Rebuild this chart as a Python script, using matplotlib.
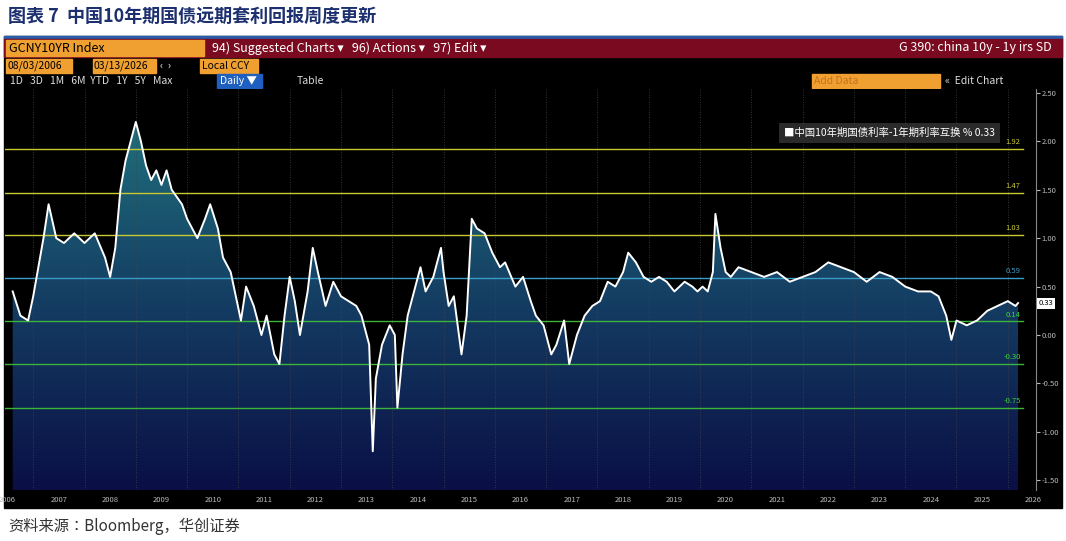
import os
import numpy as np
import matplotlib.pyplot as plt
from matplotlib import font_manager
from matplotlib.patches import Rectangle, Polygon
from matplotlib.colors import LinearSegmentedColormap

# pick a simplified-Chinese CJK face if one exists as its own file
cjk = []
for f in font_manager.fontManager.ttflist:
    if "CJK" in f.name and "SC" in os.path.basename(f.fname) and f.weight in (400, "normal", "regular"):
        cjk.append(f.name)
families = cjk[:1] + ["Noto Sans CJK SC", "Noto Sans CJK TC", "Noto Sans CJK JP", "DejaVu Sans"]
plt.rcParams["font.family"] = families

# ==============================================================================
# data (year fraction, spread %)
t = [2006.6, 2006.75, 2006.9, 2007.0, 2007.2, 2007.3, 2007.45, 2007.6, 2007.8, 2008.0,
     2008.2, 2008.4, 2008.5, 2008.6, 2008.7, 2008.8, 2008.9, 2009.0, 2009.1, 2009.2,
     2009.3, 2009.4, 2009.5, 2009.6, 2009.7, 2009.9, 2010.0, 2010.2, 2010.35, 2010.45,
     2010.6, 2010.7, 2010.85, 2010.95, 2011.05, 2011.15, 2011.3, 2011.45, 2011.55, 2011.7,
     2011.8, 2011.9, 2012.0, 2012.1, 2012.2, 2012.35, 2012.45, 2012.55, 2012.7, 2012.85,
     2013.0, 2013.15, 2013.3, 2013.4, 2013.45, 2013.55, 2013.62, 2013.68, 2013.8, 2013.95,
     2014.05, 2014.1, 2014.2, 2014.3, 2014.45, 2014.55, 2014.65, 2014.8, 2014.95, 2015.0,
     2015.1, 2015.2, 2015.35, 2015.45, 2015.55, 2015.65, 2015.8, 2015.95, 2016.1, 2016.2,
     2016.4, 2016.55, 2016.7, 2016.8, 2016.95, 2017.1, 2017.2, 2017.35, 2017.45, 2017.6,
     2017.75, 2017.9, 2018.05, 2018.2, 2018.35, 2018.5, 2018.6, 2018.75, 2018.9, 2019.05,
     2019.2, 2019.35, 2019.5, 2019.7, 2019.85, 2019.95, 2020.05, 2020.15, 2020.25, 2020.3,
     2020.4, 2020.5, 2020.6, 2020.75, 2021.0, 2021.25, 2021.5, 2021.75, 2022.0, 2022.25,
     2022.5, 2022.75, 2023.0, 2023.25, 2023.5, 2023.75, 2024.0, 2024.25, 2024.5, 2024.65,
     2024.8, 2024.9, 2025.0, 2025.2, 2025.4, 2025.6, 2025.8, 2026.0, 2026.15, 2026.2]
spread = [0.45, 0.20, 0.15, 0.40, 1.00, 1.35, 1.00, 0.95, 1.05, 0.95,
          1.05, 0.80, 0.60, 0.90, 1.50, 1.80, 2.00, 2.20, 2.00, 1.75,
          1.60, 1.70, 1.55, 1.70, 1.50, 1.35, 1.20, 1.00, 1.20, 1.35,
          1.10, 0.80, 0.65, 0.40, 0.15, 0.50, 0.30, 0.00, 0.20, -0.20,
          -0.30, 0.20, 0.60, 0.35, 0.00, 0.45, 0.90, 0.65, 0.30, 0.55,
          0.40, 0.35, 0.30, 0.20, 0.10, -0.10, -1.20, -0.45, -0.10, 0.10,
          0.00, -0.75, -0.20, 0.20, 0.50, 0.70, 0.45, 0.60, 0.90, 0.65,
          0.30, 0.40, -0.20, 0.20, 1.20, 1.10, 1.05, 0.85, 0.70, 0.75,
          0.50, 0.60, 0.35, 0.20, 0.10, -0.20, -0.10, 0.15, -0.30, 0.00,
          0.20, 0.30, 0.35, 0.55, 0.50, 0.65, 0.85, 0.75, 0.60, 0.55,
          0.60, 0.55, 0.45, 0.55, 0.50, 0.45, 0.50, 0.45, 0.65, 1.25,
          0.90, 0.65, 0.60, 0.70, 0.65, 0.60, 0.65, 0.55, 0.60, 0.65,
          0.75, 0.70, 0.65, 0.55, 0.65, 0.60, 0.50, 0.45, 0.45, 0.40,
          0.20, -0.05, 0.15, 0.10, 0.15, 0.25, 0.30, 0.35, 0.30, 0.33]

bands = [1.92, 1.47, 1.03, 0.59, 0.14, -0.30, -0.75]
band_colors = ["#c8c832", "#c8c832", "#c8c832", "#3a9cc8", "#3cb43c", "#3cb43c", "#3cb43c"]
band_text = ["#c8c832", "#c8c832", "#c8c832", "#3a9cc8", "#3cd23c", "#3cd23c", "#3cd23c"]
years = list(range(2006, 2027))
yticks = [2.5, 2.0, 1.5, 1.0, 0.5, 0.0, -0.5, -1.0, -1.5]

# ==============================================================================
W, H = 1066, 541
fig = plt.figure(figsize=(W / 100, H / 100), dpi=100)
fig.patch.set_facecolor("white")

def px(x0, y0, x1, y1):
    return [x0 / W, 1 - y1 / H, (x1 - x0) / W, (y1 - y0) / H]

def rect(x0, y0, x1, y1, color):
    fig.patches.append(Rectangle((x0 / W, 1 - y1 / H), (x1 - x0) / W, (y1 - y0) / H,
                                 transform=fig.transFigure, color=color, zorder=-5))

def txt(x, y, s, **kw):
    fig.text(x / W, 1 - y / H, s, va="center", **kw)

# title and source
txt(8, 16, "图表 7  中国10年期国债远期套利回报周度更新", fontsize=13, fontweight="bold", color="#1c2f6e")
txt(8, 526, "资料来源：Bloomberg，华创证券", fontsize=11, style="italic", color="#333333")

# terminal frame
rect(4, 36, 1062, 508, "black")
rect(4, 36, 1062, 39, "#2a5caa")
rect(4, 39, 1062, 57, "#7a0a20")
rect(6, 40, 204, 56, "#f0a030")
txt(9, 48, "GCNY10YR Index", fontsize=9, color="black")
txt(212, 48, "94) Suggested Charts ▾   96) Actions ▾   97) Edit ▾", fontsize=9, color="white")
txt(1052, 48, "G 390: china 10y - 1y irs SD", fontsize=9, color="white", ha="right")
rect(6, 59, 72, 73, "#f0a030")
rect(93, 59, 156, 73, "#f0a030")
rect(200, 59, 258, 73, "#f0a030")
txt(7, 66, "08/03/2006", fontsize=7.5, color="black")
txt(94, 66, "03/13/2026", fontsize=7.5, color="black")
txt(202, 66, "Local CCY", fontsize=7.5, color="black")
txt(160, 66, "‹  ›", fontsize=7.5, color="white")
txt(10, 81, "1D   3D   1M   6M  YTD   1Y   5Y   Max", fontsize=7.5, color="#dddddd")
rect(217, 74, 262, 88, "#1f5fbf")
txt(220, 81, "Daily ▼", fontsize=7.5, color="white")
txt(297, 81, "Table", fontsize=7.5, color="#dddddd")
rect(812, 74, 940, 88, "#f0a030")
txt(814, 81, "Add Data", fontsize=7.5, color="#c87020")
txt(945, 81, "«  Edit Chart", fontsize=7.5, color="#dddddd")
txt(548, 94, "+ Track   ⁄ Annotate   ⁞ News   ○ Zoom", fontsize=5, color="#888888", ha="center")

# ==============================================================================
ax = fig.add_axes(px(5, 89, 1036, 490))
ax.set_zorder(5)
ax.set_facecolor("black")
x0, x1 = 2006.45, 2026.55
y0, y1 = -1.6, 2.54
ax.set_xlim(x0, x1)
ax.set_ylim(y0, y1)

# gradient fill under the line
grad = np.linspace(0, 1, 256).reshape(-1, 1)
cmap = LinearSegmentedColormap.from_list("g", ["#0a0f45", "#143c62", "#1f6f7c"])
im = ax.imshow(grad, aspect="auto", cmap=cmap, origin="lower",
               extent=[x0, x1, y0, 2.2], zorder=1)
poly = Polygon(list(zip(t, spread)) + [(t[-1], y0), (t[0], y0)], closed=True,
               transform=ax.transData, facecolor="none", edgecolor="none")
ax.add_patch(poly)
im.set_clip_path(poly)
ax.set_xlim(x0, x1)
ax.set_ylim(y0, y1)

for yr in years:
    ax.axvline(yr, color="#444444", lw=0.6, ls=(0, (1, 2)), zorder=2)
for v, c, tc in zip(bands, band_colors, band_text):
    ax.plot([x0, 2026.3], [v, v], color=c, lw=1.0, zorder=3)
    ax.text(2026.25, v + 0.03, f"{v:.2f}", color=tc, fontsize=5.5, ha="right", va="bottom", zorder=4)
ax.plot(t, spread, color="white", lw=1.4, zorder=5)

# axes styling
for s in ["top", "left", "bottom"]:
    ax.spines[s].set_visible(False)
ax.spines["right"].set_color("#888888")
ax.yaxis.tick_right()
ax.set_yticks(yticks)
ax.set_yticklabels([f"{v:.2f}" for v in yticks])
ax.tick_params(axis="y", colors="#bbbbbb", labelsize=5.5, length=3, pad=1)
ax.set_xticks([yr + 0.5 for yr in years])
ax.set_xticklabels([str(yr) for yr in years])
ax.tick_params(axis="x", colors="#bbbbbb", labelsize=5.5, length=0, pad=4)

ax.text(2026.6, 0.33, "0.33", fontsize=5.5, color="black", va="center", ha="left",
        bbox=dict(boxstyle="square,pad=0.2", fc="white", ec="none"), clip_on=False, zorder=6)
ax.text(0.96, 0.89, "■中国10年期国债利率-1年期利率互换 % 0.33", transform=ax.transAxes,
        fontsize=7.5, color="white", ha="right", va="center",
        bbox=dict(boxstyle="square,pad=0.5", fc="#2a2a2a", ec="none"), zorder=6)

plt.savefig("out.png", dpi=100, facecolor=fig.get_facecolor())
